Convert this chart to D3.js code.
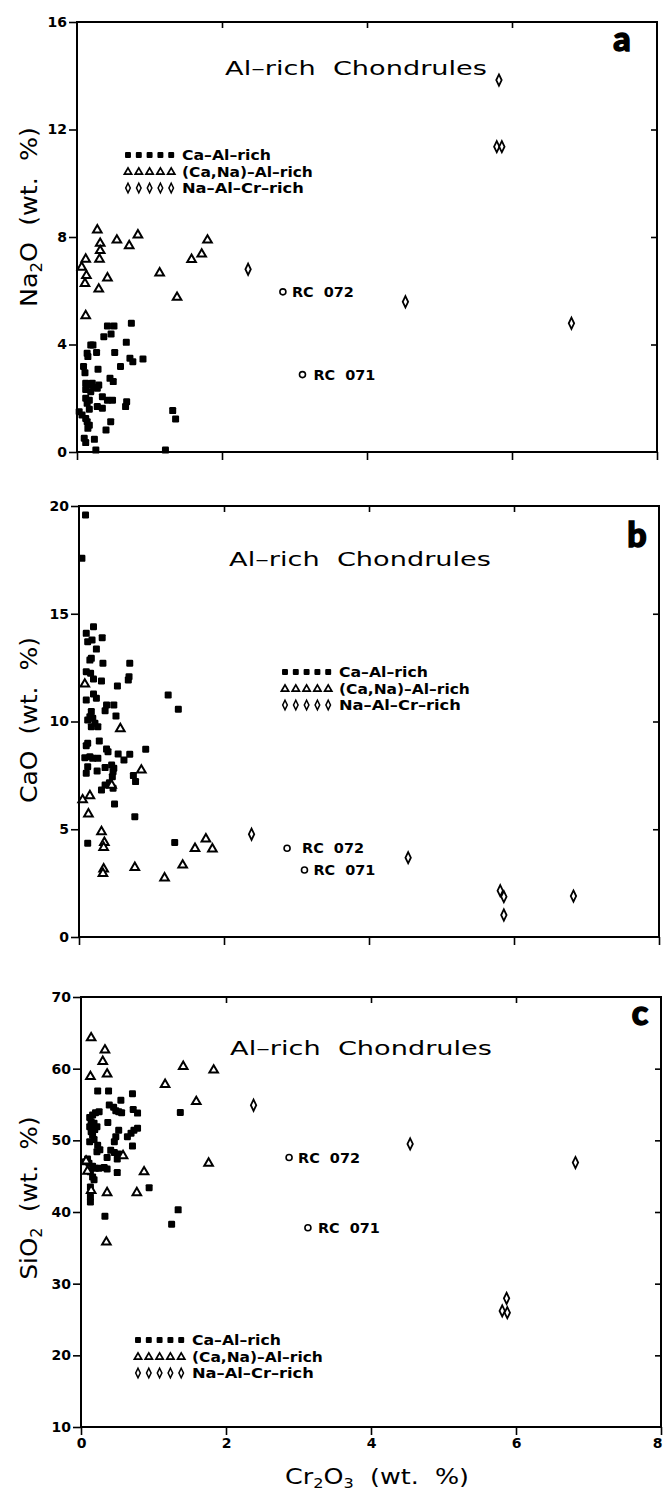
<!DOCTYPE html>
<html>
<head>
<meta charset="utf-8">
<script src="https://cdn.jsdelivr.net/npm/d3@7"></script>
<style>
  body { margin: 0; background: #fff; }
  text { white-space: pre; }
</style>
</head>
<body>
<div id="chart"></div>
<script>
const width = 663;
const height = 1491;

// tick values
const crTicks = [0, 2, 4, 6, 8];
const naTicks = [0, 4, 8, 12, 16];
const caoTicks = [0, 5, 10, 15, 20];
const sio2Ticks = [10, 20, 30, 40, 50, 60, 70];

const groupNames = ['Ca–Al–rich', '(Ca,Na)–Al–rich', 'Na–Al–Cr–rich'];
const rcNames = ['RC 072', 'RC 071'];

// panel a : [Cr2O3, Na2O]
const naCaAl = [
  [0.42, 4.69], [0.51, 4.69], [0.75, 4.79], [0.37, 4.29], [0.47, 4.39], [0.68, 4.08],
  [0.19, 3.98], [0.22, 3.98], [0.14, 3.67], [0.15, 3.55], [0.27, 3.70], [0.52, 3.70],
  [0.73, 3.49], [0.77, 3.36], [0.91, 3.46], [0.60, 3.18], [0.29, 3.08], [0.09, 3.18],
  [0.11, 2.95], [0.455, 2.74], [0.50, 2.62], [0.12, 2.56], [0.17, 2.49], [0.21, 2.56],
  [0.30, 2.49], [0.12, 2.33], [0.19, 2.24], [0.28, 2.37], [0.23, 2.40], [0.35, 2.06],
  [0.42, 1.93], [0.49, 1.93], [0.12, 2.00], [0.17, 1.93], [0.14, 1.81], [0.28, 1.69],
  [0.35, 1.63], [0.685, 1.87], [0.67, 1.69], [0.03, 1.50], [0.07, 1.38], [0.12, 1.25],
  [0.14, 1.13], [0.17, 1.00], [0.15, 0.88], [0.17, 1.59], [0.465, 1.13], [0.40, 0.82],
  [0.10, 0.51], [0.12, 0.35], [0.24, 0.47], [0.26, 0.07], [1.32, 1.54], [1.36, 1.23],
  [1.22, 0.07]
];
const naCaNa = [
  [0.28, 8.29], [0.32, 7.79], [0.32, 7.52], [0.31, 7.20], [0.12, 7.20], [0.065, 6.90],
  [0.13, 6.59], [0.11, 6.30], [0.30, 6.09], [0.42, 6.50], [0.55, 7.91], [0.72, 7.70],
  [0.84, 8.10], [1.14, 6.69], [1.38, 5.78], [1.58, 7.19], [1.72, 7.39], [1.80, 7.91],
  [0.12, 5.10]
];
const naNaCr = [[2.36, 6.80], [4.53, 5.59], [5.82, 13.84], [5.79, 11.36], [5.86, 11.36], [6.82, 4.79]];
const naRC = [[2.84, 5.96], [3.11, 2.88]];

// panel b : [Cr2O3, CaO]
const caoCaAl = [
  [0.09, 19.58], [0.04, 17.57], [0.20, 14.40], [0.10, 14.09], [0.18, 13.78], [0.12, 13.70],
  [0.32, 13.89], [0.24, 13.36], [0.17, 12.93], [0.15, 12.85], [0.33, 12.70], [0.70, 12.70],
  [0.69, 12.08], [0.68, 11.93], [0.10, 12.31], [0.16, 12.24], [0.20, 11.97], [0.31, 11.88],
  [0.53, 11.65], [0.20, 11.28], [0.24, 11.08], [0.10, 11.00], [1.23, 11.23], [1.37, 10.57],
  [0.38, 10.77], [0.48, 10.77], [0.36, 10.50], [0.51, 10.26], [0.17, 10.46], [0.15, 10.22],
  [0.19, 10.15], [0.12, 10.07], [0.22, 9.92], [0.17, 9.76], [0.26, 9.76], [0.12, 8.99],
  [0.10, 8.88], [0.28, 9.10], [0.38, 8.72], [0.40, 8.60], [0.92, 8.71], [0.54, 8.49],
  [0.70, 8.48], [0.62, 8.21], [0.08, 8.32], [0.15, 8.37], [0.19, 8.29], [0.26, 8.29],
  [0.45, 7.98], [0.48, 7.83], [0.47, 7.67], [0.46, 7.44], [0.12, 7.90], [0.10, 7.60],
  [0.25, 7.70], [0.36, 7.86], [0.75, 7.49], [0.78, 7.21], [0.42, 7.16], [0.36, 7.05],
  [0.47, 6.90], [0.31, 6.82], [0.49, 6.17], [0.77, 5.58], [0.12, 4.35], [1.32, 4.39]
];
const caoCaNa = [
  [0.08, 11.77], [0.57, 9.70], [0.86, 7.78], [0.45, 7.08], [0.15, 6.59], [0.05, 6.40],
  [0.13, 5.74], [0.31, 4.92], [0.35, 4.42], [0.34, 4.19], [0.34, 3.19], [0.33, 2.98],
  [0.77, 3.26], [1.18, 2.77], [1.43, 3.37], [1.60, 4.14], [1.75, 4.58], [1.84, 4.12]
];
const caoNaCr = [[2.38, 4.77], [4.54, 3.68], [5.81, 2.15], [5.86, 1.87], [5.86, 1.02], [6.82, 1.90]];
const caoRC = [[2.87, 4.12], [3.11, 3.11]];

// panel c : [Cr2O3, SiO2]
const sio2CaAl = [
  [0.23, 56.9], [0.38, 56.9], [0.71, 56.5], [0.55, 55.6], [0.39, 54.93], [0.45, 54.61],
  [0.48, 54.14], [0.52, 54.0], [0.56, 53.86], [0.72, 54.3], [0.78, 53.8], [1.37, 53.9],
  [0.20, 53.86], [0.25, 54.0], [0.16, 53.53], [0.12, 53.2], [0.14, 52.6], [0.18, 52.4],
  [0.37, 52.5], [0.12, 51.9], [0.14, 51.2], [0.19, 51.5], [0.22, 51.9], [0.16, 50.7],
  [0.18, 50.1], [0.12, 49.8], [0.52, 51.4], [0.48, 50.5], [0.46, 49.8], [0.64, 50.5],
  [0.69, 51.0], [0.73, 51.4], [0.78, 51.7], [0.71, 49.2], [0.23, 49.3], [0.26, 48.7],
  [0.22, 48.4], [0.41, 48.6], [0.46, 48.3], [0.52, 48.1], [0.50, 47.4], [0.36, 47.6],
  [0.09, 47.4], [0.06, 47.0], [0.11, 46.8], [0.16, 46.4], [0.20, 46.1], [0.25, 46.1],
  [0.32, 46.2], [0.36, 46.0], [0.13, 45.6], [0.16, 44.9], [0.18, 44.5], [0.13, 43.5],
  [0.50, 45.5], [0.94, 43.4], [0.13, 42.1], [0.13, 41.4], [0.33, 39.4], [1.34, 40.3],
  [1.25, 38.3]
];
const sio2CaNa = [
  [0.14, 64.4], [0.33, 62.7], [0.30, 61.1], [0.13, 59.0], [0.36, 59.35], [1.41, 60.4],
  [1.83, 59.9], [1.16, 57.9], [1.59, 55.5], [0.58, 47.95], [1.76, 46.9], [0.87, 45.7],
  [0.77, 42.8], [0.36, 42.8], [0.35, 35.9], [0.07, 47.2], [0.09, 45.8], [0.14, 43.1]
];
const sio2NaCr = [[2.38, 54.9], [4.54, 49.5], [6.82, 46.9], [5.87, 27.95], [5.81, 26.2], [5.88, 25.95]];
const sio2RC = [[2.87, 47.6], [3.13, 37.8]];

// layout of each panel (pixels)
const panels = [
  { letter: 'a', yName: ['Na', '2', 'O'], ticks: naTicks, groups: [naCaAl, naCaNa, naNaCr], rc: naRC,
    box: [77, 657, 22, 452], title: [356, 75], letterPos: [622, 51], legend: [128, 155],
    yTitle: [37, 217, 180], rcDx: [9, 11], xLabels: false },
  { letter: 'b', yName: ['CaO'], ticks: caoTicks, groups: [caoCaAl, caoCaNa, caoNaCr], rc: caoRC,
    box: [79, 659, 506, 937], title: [360, 566], letterPos: [637, 547], legend: [285, 672],
    yTitle: [37, 720, 166], rcDx: [15, 9], xLabels: false },
  { letter: 'c', yName: ['Si', 'O', '2', ''], ticks: sio2Ticks, groups: [sio2CaAl, sio2CaNa, sio2NaCr], rc: sio2RC,
    box: [81, 661, 997, 1427], title: [361, 1055], letterPos: [640, 1025], legend: [138, 1340],
    yTitle: [37, 1198, 163], rcDx: [9, 10], xLabels: true }
];

const lightFont = '"DejaVu Sans", sans-serif';
const boldFont = '"DejaVu Sans", sans-serif';

const svg = d3.select('#chart')
  .append('svg')
  .attr('width', width)
  .attr('height', height)
  .style('background', '#fff');

// stretch a text node horizontally to a given width
function fit(text, w) {
  const bw = text.node().getBBox().width;
  text.attr('transform', `scale(${w / bw},1)`);
}

// marker shapes, centred on 0,0
const shapes = [
  g => g.append('rect').attr('x', -3.5).attr('y', -3.5).attr('width', 7).attr('height', 7)
        .attr('rx', 1.2).attr('fill', '#000'),
  g => g.append('path').attr('d', 'M0,-4.2L4.3,3.2L-4.3,3.2Z')
        .attr('fill', '#fff').attr('stroke', '#000').attr('stroke-width', 2),
  g => g.append('path').attr('d', 'M0,-5.6L2.7,0L0,5.6L-2.7,0Z')
        .attr('fill', '#fff').attr('stroke', '#000').attr('stroke-width', 1.8)
];

panels.forEach(p => {
  const [left, right, top, bottom] = p.box;
  const x = d3.scaleLinear().domain([0, 8]).range([left, right]);
  const y = d3.scaleLinear().domain(d3.extent(p.ticks)).range([bottom, top]);
  const g = svg.append('g');

  // axes
  g.append('g')
    .attr('transform', `translate(${left},0)`)
    .call(d3.axisLeft(y).tickValues(p.ticks).tickSize(8).tickPadding(2))
    .call(a => a.select('.domain').remove())
    .call(a => a.selectAll('.tick line').attr('stroke-width', 1.6))
    .call(a => a.selectAll('.tick text')
      .attr('font-family', boldFont).attr('font-weight', 'bold').attr('font-size', 14).attr('fill', '#000'));

  g.append('g')
    .attr('transform', `translate(0,${bottom})`)
    .call(d3.axisBottom(x).tickValues(crTicks).tickSize(8).tickPadding(3)
      .tickFormat(p.xLabels ? d3.format('d') : ''))
    .call(a => a.select('.domain').remove())
    .call(a => a.selectAll('.tick line').attr('stroke-width', 1.6))
    .call(a => a.selectAll('.tick text')
      .attr('font-family', boldFont).attr('font-weight', 'bold').attr('font-size', 14).attr('fill', '#000'))
    .call(a => a.select('.tick:last-of-type text').attr('dx', -4));

  g.append('g')
    .attr('transform', `translate(0,${top})`)
    .call(d3.axisTop(x).tickValues(crTicks.slice(1, -1)).tickSize(-6).tickFormat(''))
    .call(a => a.select('.domain').remove())
    .call(a => a.selectAll('.tick line').attr('stroke-width', 1.6));

  g.append('g')
    .attr('transform', `translate(${right},0)`)
    .call(d3.axisRight(y).tickValues(p.ticks.slice(1, -1)).tickSize(-6).tickFormat(''))
    .call(a => a.select('.domain').remove())
    .call(a => a.selectAll('.tick line').attr('stroke-width', 1.6));

  g.append('rect')
    .attr('x', left).attr('y', top)
    .attr('width', right - left).attr('height', bottom - top)
    .attr('fill', 'none').attr('stroke', '#000').attr('stroke-width', 2);

  // points
  p.groups.forEach((data, gi) => {
    g.append('g').selectAll('g')
      .data(data)
      .join('g')
      .attr('transform', d => `translate(${x(d[0])},${y(d[1])})`)
      .each(function () { shapes[gi](d3.select(this)); });
  });

  // RC chondrules
  const rc = g.append('g').selectAll('g')
    .data(p.rc)
    .join('g')
    .attr('transform', d => `translate(${x(d[0])},${y(d[1])})`);
  rc.append('circle').attr('r', 3).attr('fill', '#fff').attr('stroke', '#000').attr('stroke-width', 1.6);
  rc.append('g')
    .attr('transform', (d, i) => `translate(${p.rcDx[i]},5)`)
    .append('text')
    .attr('font-family', boldFont).attr('font-weight', 'bold').attr('font-size', 14)
    .text((d, i) => rcNames[i].replace(' ', '  '))
    .each(function () { fit(d3.select(this), 62); });

  // legend
  const lg = g.append('g').attr('transform', `translate(${p.legend[0]},${p.legend[1]})`);
  const legendWidths = [89, 131, 122];
  groupNames.forEach((name, gi) => {
    const row = lg.append('g').attr('transform', `translate(0,${gi * 16.5})`);
    d3.range(5).forEach(k => {
      const m = row.append('g').attr('transform', `translate(${k * 10.8},0) scale(0.85)`);
      shapes[gi](m);
    });
    row.append('g').attr('transform', 'translate(54,5)')
      .append('text')
      .attr('font-family', boldFont).attr('font-weight', 'bold').attr('font-size', 14)
      .text(name)
      .call(t => fit(t, legendWidths[gi]));
  });

  // title
  g.append('g').attr('transform', `translate(${p.title[0]},${p.title[1]})`)
    .append('text')
    .attr('text-anchor', 'middle')
    .attr('font-family', lightFont).attr('font-weight', 400).attr('font-size', 20)
    .text('Al–rich  Chondrules')
    .call(t => fit(t, 262));

  // panel letter
  g.append('text')
    .attr('x', p.letterPos[0]).attr('y', p.letterPos[1])
    .attr('text-anchor', 'middle')
    .attr('font-family', 'Lato, "DejaVu Sans", sans-serif').attr('font-weight', 900).attr('font-size', 34)
    .attr('stroke', '#000').attr('stroke-width', 1.4)
    .text(p.letter);

  // y title
  const yt = g.append('g')
    .attr('transform', `translate(${p.yTitle[0]},${p.yTitle[1]}) rotate(-90)`)
    .append('text')
    .attr('text-anchor', 'middle')
    .attr('font-family', lightFont).attr('font-weight', 400).attr('font-size', 23);
  if (p.yName.length === 1) {
    yt.append('tspan').text(p.yName[0] + '  (wt.  %)');
  } else if (p.yName.length === 3) {
    yt.append('tspan').text(p.yName[0]);
    yt.append('tspan').attr('dy', 5).attr('font-size', 15).text(p.yName[1]);
    yt.append('tspan').attr('dy', -5).text(p.yName[2] + '  (wt.  %)');
  } else {
    yt.append('tspan').text(p.yName[0] + p.yName[1]);
    yt.append('tspan').attr('dy', 5).attr('font-size', 15).text(p.yName[2]);
    yt.append('tspan').attr('dy', -5).text('  (wt.  %)');
  }
  fit(yt, p.yTitle[2]);
});

// x title
const xt = svg.append('g').attr('transform', 'translate(377,1484)')
  .append('text')
  .attr('text-anchor', 'middle')
  .attr('font-family', lightFont).attr('font-weight', 400).attr('font-size', 22);
xt.append('tspan').text('Cr');
xt.append('tspan').attr('dy', 4).attr('font-size', 14).text('2');
xt.append('tspan').attr('dy', -4).text('O');
xt.append('tspan').attr('dy', 4).attr('font-size', 14).text('3');
xt.append('tspan').attr('dy', -4).text('  (wt.  %)');
fit(xt, 184);
</script>
</body>
</html>
